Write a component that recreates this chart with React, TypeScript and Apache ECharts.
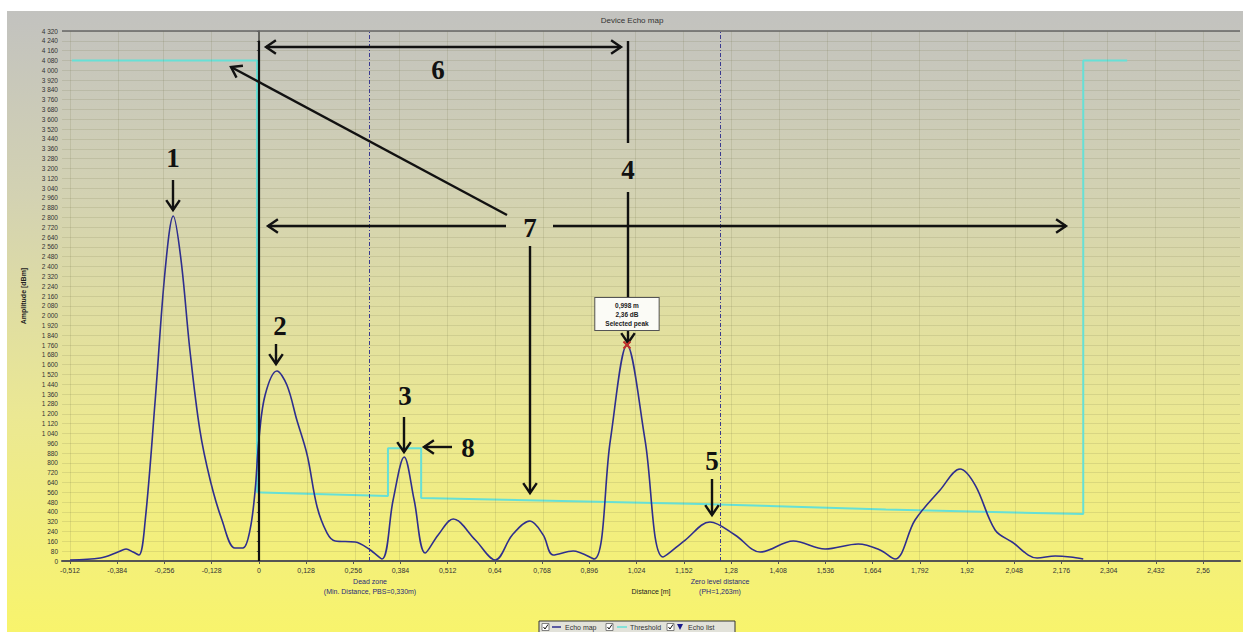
import React, { useEffect, useRef } from 'react';
import * as echarts from 'echarts';

// ---------------- data ----------------
const xTicks = [-0.512, -0.384, -0.256, -0.128, 0, 0.128, 0.256, 0.384, 0.512, 0.64, 0.768, 0.896, 1.024, 1.152, 1.28, 1.408, 1.536, 1.664, 1.792, 1.92, 2.048, 2.176, 2.304, 2.432, 2.56];
const yMin = 0;
const yMax = 4320;
const yStep = 80;

const echoDistance = [-0.512, -0.43, -0.382, -0.36, -0.341, -0.325, -0.308, -0.281, -0.254, -0.232, -0.211, -0.187, -0.16, -0.132, -0.1, -0.065, -0.043, -0.024, -0.01, 0.0, 0.017, 0.049, 0.076, 0.103, 0.131, 0.158, 0.185, 0.207, 0.261, 0.302, 0.334, 0.364, 0.394, 0.421, 0.451, 0.486, 0.527, 0.587, 0.641, 0.687, 0.735, 0.771, 0.798, 0.852, 0.909, 0.953, 0.998, 1.047, 1.096, 1.156, 1.223, 1.291, 1.359, 1.449, 1.535, 1.625, 1.684, 1.725, 1.779, 1.847, 1.901, 1.942, 1.996, 2.042, 2.11, 2.159, 2.2, 2.235];
const echoAmplitude = [8, 24, 73, 98, 73, 49, 334, 1312, 2372, 2812, 2453, 1720, 1068, 660, 334, 106, 106, 253, 579, 986, 1353, 1549, 1434, 1149, 864, 440, 228, 163, 155, 90, 16, 497, 848, 497, 65, 212, 342, 171, 8, 212, 326, 212, 49, 82, 16, 986, 1760, 986, 33, 171, 318, 212, 73, 163, 98, 139, 90, 16, 334, 579, 750, 619, 253, 155, 24, 41, 33, 16];

const thresholdDistance = [-0.507, -0.005, -0.005, 0.35, 0.35, 0.44, 0.44, 1.2, 1.7, 2.235, 2.235, 2.354];
const thresholdAmplitude = [4080, 4080, 560, 530, 920, 920, 513, 465, 420, 383, 4080, 4080];

const deadZoneDistance = 0.302;
const zeroLevelDistance = 1.253;
const zeroLineTop = 4240;
const selectedPeak = [0.998, 1760];
const selectedPeakText = '0,998 m\n2,36 dB\nSelected peak';

// ---------------- layout helpers (image pixel coords) ----------------
const OX = 7;
const OY = 11;
const FONT = '"Liberation Sans", Arial, sans-serif';

function fmtX(v: number) {
  const s = String(+v.toFixed(3));
  return s.replace('.', ',');
}
function fmtY(v: number) {
  if (v >= 1000) {
    return Math.floor(v / 1000) + ' ' + String(v % 1000).padStart(3, '0');
  }
  return String(v);
}

function arrow(x1: number, y1: number, x2: number, y2: number, both = false): any[] {
  const els: any[] = [];
  const st = { stroke: '#111', lineWidth: 2.4, fill: 'none' };
  els.push({ type: 'line', shape: { x1: x1 - OX, y1: y1 - OY, x2: x2 - OX, y2: y2 - OY }, style: st, z: 100 });
  const head = (tx: number, ty: number, fx: number, fy: number) => {
    const a = Math.atan2(ty - fy, tx - fx);
    const L = 12;
    const s = 0.6;
    return {
      type: 'polyline',
      shape: {
        points: [
          [tx - L * Math.cos(a - s) - OX, ty - L * Math.sin(a - s) - OY],
          [tx - OX, ty - OY],
          [tx - L * Math.cos(a + s) - OX, ty - L * Math.sin(a + s) - OY],
        ],
      },
      style: st,
      z: 100,
    };
  };
  els.push(head(x2, y2, x1, y1));
  if (both) els.push(head(x1, y1, x2, y2));
  return els;
}

function bigText(t: string, x: number, y: number): any {
  return {
    type: 'text',
    x: x - OX,
    y: y - OY,
    z: 100,
    style: {
      text: t,
      font: 'bold 27px "Liberation Serif", "Times New Roman", serif',
      fill: '#111',
      textAlign: 'center',
      textVerticalAlign: 'middle',
    },
  };
}

function smallText(t: string, x: number, y: number, color = '#2a2a7a', size = 7, align = 'center'): any {
  return {
    type: 'text',
    x: x - OX,
    y: y - OY,
    z: 100,
    style: {
      text: t,
      font: `${size}px ${FONT}`,
      fill: color,
      textAlign: align,
      textVerticalAlign: 'middle',
    },
  };
}

function legendGraphic(): any[] {
  const els: any[] = [];
  els.push({ type: 'rect', shape: { x: 539 - OX, y: 621 - OY, width: 196, height: 14 }, style: { fill: '#e2e2da', stroke: '#333', lineWidth: 1 }, z: 100 });
  const cb = (x: number) => [
    { type: 'rect', shape: { x: x - OX, y: 623.5 - OY, width: 7, height: 7 }, style: { fill: '#fff', stroke: '#666', lineWidth: 0.8 }, z: 101 },
    { type: 'polyline', shape: { points: [[x + 1.5 - OX, 627 - OY], [x + 3 - OX, 629 - OY], [x + 6 - OX, 624.5 - OY]] }, style: { stroke: '#111', lineWidth: 1, fill: 'none' }, z: 102 },
  ];
  els.push(...cb(542));
  els.push({ type: 'line', shape: { x1: 552 - OX, y1: 627 - OY, x2: 561 - OX, y2: 627 - OY }, style: { stroke: '#2e2e8e', lineWidth: 1.5 }, z: 101 });
  els.push(smallText('Echo map', 565, 627, '#333', 7, 'left'));
  els.push(...cb(606));
  els.push({ type: 'line', shape: { x1: 617 - OX, y1: 627 - OY, x2: 627 - OX, y2: 627 - OY }, style: { stroke: '#66e0d6', lineWidth: 1.5 }, z: 101 });
  els.push(smallText('Threshold', 630, 627, '#333', 7, 'left'));
  els.push(...cb(667));
  els.push({ type: 'polygon', shape: { points: [[677 - OX, 624 - OY], [683 - OX, 624 - OY], [680 - OX, 630 - OY]] }, style: { fill: '#1a1a8a' }, z: 101 });
  els.push(smallText('Echo list', 688, 627, '#333', 7, 'left'));
  return els;
}

export default function App() {
  const ref = useRef<HTMLDivElement>(null);

  useEffect(() => {
    if (!ref.current) return;
    const chart = echarts.init(ref.current, undefined, { renderer: 'svg' });

    const echoData = echoDistance.map((d, i) => [d, echoAmplitude[i]]);
    const thresholdData = thresholdDistance.map((d, i) => [d, thresholdAmplitude[i]]);

    const gridLineStyle = { color: 'rgba(110,110,70,0.16)', width: 1, type: 'solid' };
    const vGrid = xTicks.map((t) => ({ xAxis: t, lineStyle: gridLineStyle }));

    const graphic: any[] = [
      { type: 'line', shape: { x1: 62 - OX, y1: 31 - OY, x2: 1240 - OX, y2: 31 - OY }, style: { stroke: '#666', lineWidth: 1.5 }, z: 50 },
      smallText('Device Echo map', 632, 20, '#333', 8),
      smallText('Dead zone', 370, 581),
      smallText('(Min. Distance, PBS=0,330m)', 370, 591),
      smallText('Zero level distance', 720, 581),
      smallText('(PH=1,263m)', 720, 591),
      bigText('1', 173, 158),
      ...arrow(173, 180, 173, 210),
      bigText('2', 280, 326),
      ...arrow(276, 344, 276, 364),
      bigText('3', 405, 396),
      ...arrow(404, 417, 404, 452),
      bigText('8', 468, 448),
      ...arrow(452, 447, 424, 447),
      bigText('4', 628, 170),
      { type: 'line', shape: { x1: 628 - OX, y1: 41 - OY, x2: 628 - OX, y2: 143 - OY }, style: { stroke: '#111', lineWidth: 2.4 }, z: 100 },
      ...arrow(628, 192, 628, 343),
      bigText('5', 712, 461),
      ...arrow(712, 479, 712, 515),
      bigText('6', 438, 70),
      ...arrow(266, 47, 621, 47, true),
      bigText('7', 530, 228),
      ...arrow(507, 215, 231, 67),
      ...arrow(506, 226, 268, 226),
      ...arrow(553, 226, 1066, 226),
      ...arrow(530, 246, 530, 493),
      ...legendGraphic(),
    ];

    chart.setOption({
      animation: false,
      backgroundColor: {
        type: 'linear',
        x: 0, y: 0, x2: 0, y2: 1,
        colorStops: [
          { offset: 0, color: '#c2c2bf' },
          { offset: 0.3, color: '#d3d2b2' },
          { offset: 0.65, color: '#ebe893' },
          { offset: 1, color: '#f8f46c' },
        ],
      },
      textStyle: { fontFamily: FONT },
      grid: { left: 55, top: 20, right: 3, bottom: 71, containLabel: false },
      xAxis: {
        type: 'value',
        min: -0.5337,
        max: 2.66,
        name: 'Distance [m]',
        nameLocation: 'middle',
        nameGap: 27,
        nameTextStyle: { fontSize: 7, color: '#222' },
        axisLine: { show: true, onZero: false, lineStyle: { color: '#555', width: 2 } },
        axisTick: { show: true, customValues: xTicks, length: 3, lineStyle: { color: '#555' } },
        axisLabel: { customValues: xTicks, formatter: (v: number) => fmtX(v), fontSize: 7, color: '#333', margin: 6 },
        splitLine: { show: false },
      },
      yAxis: {
        type: 'value',
        min: yMin,
        max: yMax,
        interval: yStep,
        name: 'Amplitude [dBm]',
        nameLocation: 'middle',
        nameGap: 35,
        nameTextStyle: { fontSize: 7, color: '#222', fontWeight: 'bold' },
        axisLine: { show: true, lineStyle: { color: '#444', width: 1.5 } },
        axisTick: { show: true, length: 2, lineStyle: { color: '#555' } },
        axisLabel: { formatter: (v: number) => fmtY(v), fontSize: 6.5, color: '#333', margin: 4 },
        splitLine: { show: true, lineStyle: gridLineStyle },
      },
      series: [
        {
          name: 'Threshold',
          type: 'line',
          data: thresholdData,
          showSymbol: false,
          symbol: 'none',
          lineStyle: { color: '#66e0d6', width: 2 },
          z: 3,
          markLine: {
            silent: true,
            symbol: ['none', 'none'],
            label: { show: false },
            animation: false,
            data: vGrid,
          },
        },
        {
          name: 'Echo map',
          type: 'line',
          data: echoData,
          smooth: 0.35,
          showSymbol: false,
          symbol: 'none',
          lineStyle: { color: '#2e2e8e', width: 1.6 },
          z: 4,
          markLine: {
            silent: true,
            symbol: ['none', 'none'],
            label: { show: false },
            animation: false,
            data: [
              { xAxis: deadZoneDistance, lineStyle: { color: '#3a3a90', width: 1, type: [4, 2, 1, 2] } },
              { xAxis: zeroLevelDistance, lineStyle: { color: '#3a3a90', width: 1, type: [4, 2, 1, 2] } },
              [
                { coord: [0, 0], lineStyle: { color: '#111', width: 2.2, type: 'solid' } },
                { coord: [0, zeroLineTop] },
              ],
            ],
          },
          markPoint: {
            silent: true,
            animation: false,
            z: 200,
            data: [
              {
                coord: selectedPeak,
                symbol: 'path://M0,0L10,10M10,0L0,10',
                symbolSize: 7,
                itemStyle: { color: 'none', borderColor: '#c0302a', borderWidth: 2 },
                label: {
                  show: true,
                  position: 'top',
                  distance: 9,
                  formatter: selectedPeakText,
                  backgroundColor: '#fbfbf6',
                  borderColor: '#555',
                  borderWidth: 1,
                  padding: [3, 10, 2, 10],
                  fontSize: 6.5,
                  lineHeight: 9,
                  color: '#222',
                  fontWeight: 'bold',
                  align: 'center',
                },
              },
            ],
          },
        },
      ],
      graphic,
    });

    return () => {
      chart.dispose();
    };
  }, []);

  return (
    <div
      ref={ref}
      style={{ position: 'fixed', left: 7, top: 11, width: 1236, height: 621 }}
    />
  );
}
